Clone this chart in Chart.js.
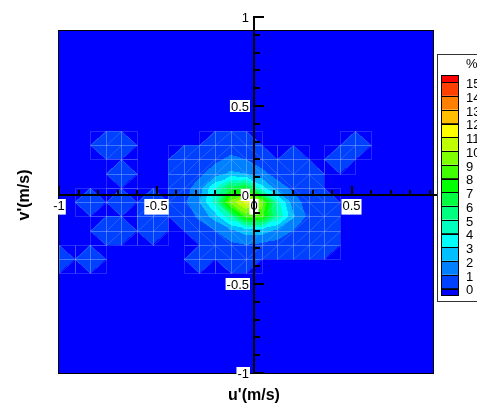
<!DOCTYPE html>
<html>
<head>
<meta charset="utf-8">
<script src="https://cdn.jsdelivr.net/npm/chart.js@4"></script>
<style>
  html, body { margin: 0; padding: 0; background: #fff; }
</style>
</head>
<body>
<canvas id="myChart" width="477" height="403"></canvas>
<script>
// grid nodes of the histogram (m/s)
const xNodes = [-1, -0.92, -0.84, -0.76, -0.68, -0.6, -0.52, -0.44, -0.36, -0.28, -0.2, -0.12, -0.04,
  0.04, 0.12, 0.2, 0.28, 0.36, 0.44, 0.52, 0.6, 0.68, 0.76, 0.84, 0.92];
const yNodes = [-1, -0.92, -0.84, -0.76, -0.68, -0.6, -0.52, -0.44, -0.36, -0.28, -0.2, -0.12, -0.04,
  0.04, 0.12, 0.2, 0.28, 0.36, 0.44, 0.52, 0.6, 0.68, 0.76, 0.84, 0.92];

// percentage at each node, top row (v' = 0.92) first
const zRows = [
  [0,0,0,0,0,0,0,0,0,0,0,0,0,0,0,0,0,0,0,0,0,0,0,0,0],
  [0,0,0,0,0,0,0,0,0,0,0,0,0,0,0,0,0,0,0,0,0,0,0,0,0],
  [0,0,0,0,0,0,0,0,0,0,0,0,0,0,0,0,0,0,0,0,0,0,0,0,0],
  [0,0,0,0,0,0,0,0,0,0,0,0,0,0,0,0,0,0,0,0,0,0,0,0,0],
  [0,0,0,0,0,0,0,0,0,0,0,0,0,0,0,0,0,0,0,0,0,0,0,0,0],
  [0,0,0,0,0,0,0,0,0,0,0,0,0,0,0,0,0,0,0,0,0,0,0,0,0],
  [0,0,0,0,0,0,0,0,0,0,0,0,0,0,0,0,0,0,0,0,0,0,0,0,0],
  [0,0,0,0,0,0,0,0,0,0,0,0,0,0,0,0,0,0,0,0,0,0,0,0,0],
  [0,0,0,.5,.5,0,0,0,0,0,.5,.6,.5,0,0,0,0,0,0,.5,0,0,0,0,0],
  [0,0,0,0,0,0,0,0,.5,.5,.8,1.2,1,.5,0,.5,0,0,.5,0,0,0,0,0,0],
  [0,0,0,0,.5,0,0,0,.5,.8,1.5,2.2,2,1.3,.6,0,.4,0,0,0,0,0,0,0,0],
  [0,0,0,0,0,0,0,0,.6,1.5,4,6.5,7,3.5,1.5,.8,.5,0,0,0,0,0,0,0,0],
  [0,0,.5,0,.5,0,.5,0,.8,2,4.5,9.5,11.5,9.5,4.5,1.5,.6,.5,0,0,0,0,0,0,0],
  [0,0,0,0,0,0,.5,0,.5,1.2,2.5,5,8.5,8.5,5,2.2,.8,.5,0,0,0,0,0,0,0],
  [0,0,0,.5,.5,0,.5,0,0,.5,1,1.8,2.5,2.5,1.8,1,.6,.5,0,0,0,0,0,0,0],
  [0,0,0,0,0,0,0,0,0,0,.5,.8,1,.8,.6,.5,.5,.5,0,0,0,0,0,0,0],
  [.5,0,.5,0,0,0,0,0,0,.5,0,.5,.5,0,0,0,0,0,0,0,0,0,0,0,0],
  [0,0,0,0,0,0,0,0,0,0,0,0,0,0,0,0,0,0,0,0,0,0,0,0,0],
  [0,0,0,0,0,0,0,0,0,0,0,0,0,0,0,0,0,0,0,0,0,0,0,0,0],
  [0,0,0,0,0,0,0,0,0,0,0,0,0,0,0,0,0,0,0,0,0,0,0,0,0],
  [0,0,0,0,0,0,0,0,0,0,0,0,0,0,0,0,0,0,0,0,0,0,0,0,0],
  [0,0,0,0,0,0,0,0,0,0,0,0,0,0,0,0,0,0,0,0,0,0,0,0,0],
  [0,0,0,0,0,0,0,0,0,0,0,0,0,0,0,0,0,0,0,0,0,0,0,0,0],
  [0,0,0,0,0,0,0,0,0,0,0,0,0,0,0,0,0,0,0,0,0,0,0,0,0],
  [0,0,0,0,0,0,0,0,0,0,0,0,0,0,0,0,0,0,0,0,0,0,0,0,0]
];

// contour levels (%) and the flood colours below / between / above them
const contourLevels = [0, 1, 2, 3, 4, 5, 6, 7, 8, 9, 10, 11, 12, 13, 14, 15];
const bandColors = ["#0000ff", "#0040ff", "#0080ff", "#00bfff", "#00ffff", "#00ffbf", "#00ff80",
  "#00ff40", "#00ff00", "#40ff00", "#80ff00", "#bfff00", "#ffff00", "#ffbf00", "#ff8000",
  "#ff4000", "#ff0000"];

// axis tick labels
const xTickValues = [-1, -0.5, 0, 0.5];
const yTickValues = [-1, -0.5, 0, 0.5, 1];

const FONT = "'Liberation Sans', Arial, sans-serif";

const bandOf = (v) => {
  let n = 0;
  for (const L of contourLevels) if (L < v) n++;
  return n;
};

// pick the cell diagonal with the smaller jump
const splitAC = (a, b, c, d) => Math.abs(a - c) <= Math.abs(b - d);

//flooded contour, linear over two triangles per cell
const contourPlugin = {
  id: "contour",
  beforeDraw(chart) {
    const { ctx, scales: { x, y } } = chart;
    const nx = xNodes.length, ny = yNodes.length;
    const left = Math.round(x.getPixelForValue(xNodes[0]));
    const right = Math.round(x.getPixelForValue(xNodes[nx - 1]));
    const top = Math.round(y.getPixelForValue(yNodes[ny - 1]));
    const bottom = Math.round(y.getPixelForValue(yNodes[0]));
    const w = right - left, h = bottom - top;
    const img = ctx.createImageData(w, h);
    const rgb = bandColors.map((c) => [1, 3, 5].map((k) => parseInt(c.slice(k, k + 2), 16)));
    const stepX = xNodes[1] - xNodes[0], stepY = yNodes[1] - yNodes[0];

    const colI = [], colS = [], rowJ = [], rowT = [];
    for (let px = 0; px < w; px++) {
      let f = (x.getValueForPixel(left + px + 0.5) - xNodes[0]) / stepX;
      f = Math.max(0, Math.min(nx - 1.0001, f));
      colI.push(Math.floor(f));
      colS.push(f - Math.floor(f));
    }
    for (let py = 0; py < h; py++) {
      let f = (y.getValueForPixel(top + py + 0.5) - yNodes[0]) / stepY;
      f = Math.max(0, Math.min(ny - 1.0001, f));
      rowJ.push(Math.floor(f));
      rowT.push(f - Math.floor(f));
    }
    const z = (i, j) => zRows[ny - 1 - j][i];

    for (let py = 0; py < h; py++) {
      const j = rowJ[py], t = rowT[py];
      for (let px = 0; px < w; px++) {
        const i = colI[px], u = colS[px];
        const a = z(i, j), b = z(i + 1, j), c = z(i + 1, j + 1), d = z(i, j + 1);
        let v;
        if (splitAC(a, b, c, d)) {
          v = u >= t ? a + (b - a) * u + (c - b) * t : a + (d - a) * t + (c - d) * u;
        } else {
          v = u + t <= 1 ? a + (b - a) * u + (d - a) * t : c + (d - c) * (1 - u) + (b - c) * (1 - t);
        }
        const col = rgb[bandOf(v)];
        const k = (py * w + px) * 4;
        img.data[k] = col[0];
        img.data[k + 1] = col[1];
        img.data[k + 2] = col[2];
        img.data[k + 3] = 255;
      }
    }
    ctx.putImageData(img, left, top);

    // faint seams along the cell edges and diagonals where data is non-zero
    ctx.save();
    ctx.strokeStyle = "rgba(190, 215, 255, 0.2)";
    ctx.lineWidth = 1;
    ctx.beginPath();
    for (let j = 0; j < ny - 1; j++) {
      for (let i = 0; i < nx - 1; i++) {
        const a = z(i, j), b = z(i + 1, j), c = z(i + 1, j + 1), d = z(i, j + 1);
        if (a <= 0 && b <= 0 && c <= 0 && d <= 0) continue;
        const xl = Math.round(x.getPixelForValue(xNodes[i])) + 0.5;
        const xr = Math.round(x.getPixelForValue(xNodes[i + 1])) + 0.5;
        const yb = Math.round(y.getPixelForValue(yNodes[j])) + 0.5;
        const yt = Math.round(y.getPixelForValue(yNodes[j + 1])) + 0.5;
        ctx.rect(xl, yt, xr - xl, yb - yt);
        if (splitAC(a, b, c, d)) { ctx.moveTo(xl, yb); ctx.lineTo(xr, yt); }
        else { ctx.moveTo(xr, yb); ctx.lineTo(xl, yt); }
      }
    }
    ctx.stroke();

    ctx.strokeStyle = "#000";
    ctx.strokeRect(left - 0.5, top - 0.5, w + 1, h + 1);
    ctx.restore();
  },

  afterDraw(chart) {
    const { ctx, scales: { x, y } } = chart;
    const x0 = x.getPixelForValue(0);
    const y0 = y.getPixelForValue(0);
    ctx.save();
    ctx.strokeStyle = "#000";
    ctx.lineWidth = 2;

    // tick marks, pointing up on u' axis and right on v' axis
    ctx.beginPath();
    for (let k = -10; k <= 9; k++) {
      const px = Math.round(x.getPixelForValue(k / 10));
      const len = k % 5 === 0 ? 9 : 5;
      ctx.moveTo(px, y0);
      ctx.lineTo(px, y0 - len);
    }
    for (let k = -10; k <= 10; k++) {
      const py = Math.round(y.getPixelForValue(k / 10));
      const len = k % 5 === 0 ? 10 : 6;
      ctx.moveTo(x0, py);
      ctx.lineTo(x0 + len, py);
    }
    ctx.stroke();

    // v' tick labels with white backing
    ctx.font = "13px " + FONT;
    ctx.textAlign = "right";
    ctx.textBaseline = "middle";
    yTickValues.forEach((v) => {
      const py = y.getPixelForValue(v);
      const label = String(v);
      const tw = ctx.measureText(label).width;
      if (v !== 1) {
        ctx.fillStyle = "#fff";
        ctx.fillRect(249 - tw - 1, py - 6, tw + 2, 12);
      }
      ctx.fillStyle = "#000";
      ctx.fillText(label, 249, py + 1);
    });

    // axis titles
    ctx.font = "bold 16px " + FONT;
    ctx.textAlign = "center";
    ctx.fillStyle = "#000";
    ctx.fillText("u'(m/s)", x0, 396);
    ctx.translate(25, 195);
    ctx.rotate(-Math.PI / 2);
    ctx.fillText("v'(m/s)", 0, 0);
    ctx.restore();

    // colour legend
    ctx.save();
    ctx.fillStyle = "#fff";
    ctx.fillRect(437, 54, 45, 248);
    ctx.strokeStyle = "#333";
    ctx.lineWidth = 1;
    ctx.strokeRect(437.5, 54.5, 45, 247);
    ctx.font = "13px " + FONT;
    ctx.textAlign = "left";
    ctx.textBaseline = "middle";
    ctx.fillStyle = "#000";
    ctx.fillText("%", 466, 64);

    const top = 82, step = 13.75, n = contourLevels.length;
    ctx.strokeStyle = "#000";
    bandColors.forEach((c, k) => {
      let yt, hh;
      if (k === bandColors.length - 1) { yt = top - 7; hh = 7; }
      else if (k === 0) { yt = top + (n - 1) * step; hh = 7; }
      else { yt = top + (n - 1 - k) * step; hh = step; }
      ctx.fillStyle = c;
      ctx.fillRect(441, yt, 18, hh);
      ctx.strokeRect(441.5, Math.round(yt) + 0.5, 17, Math.round(hh));
    });
    ctx.fillStyle = "#000";
    contourLevels.forEach((L, k) => {
      ctx.fillText(String(L), 466, top + (n - 1 - k) * step + 2.5);
    });
    ctx.restore();
  }
};

const ctx = document.getElementById("myChart").getContext("2d");
new Chart(ctx, {
  type: "scatter",
  data: { datasets: [{ data: [], pointRadius: 0 }] },
  options: {
    responsive: false,
    animation: false,
    devicePixelRatio: 1,
    layout: { padding: { left: 59, right: 37.75, top: 17, bottom: 30 } },
    plugins: { legend: { display: false }, tooltip: { enabled: false } },
    scales: {
      x: {
        type: "linear",
        min: -1,
        max: 0.95,
        position: { y: 0 },
        afterBuildTicks: (scale) => {
          scale.ticks = xTickValues.map((v) => ({ value: v }));
        },
        ticks: {
          autoSkip: false,
          maxRotation: 0,
          padding: 4,
          color: "#000",
          font: { family: FONT, size: 13 },
          showLabelBackdrop: true,
          backdropColor: "#fff",
          backdropPadding: { left: 1, right: 1, top: 0, bottom: 0 },
          callback: (v) => String(v)
        },
        grid: { drawOnChartArea: false, drawTicks: false },
        border: { color: "#000", width: 2 }
      },
      y: {
        type: "linear",
        min: -1,
        max: 1,
        position: { x: 0 },
        ticks: { display: false },
        grid: { drawOnChartArea: false, drawTicks: false },
        border: { color: "#000", width: 2 }
      }
    }
  },
  plugins: [contourPlugin]
});
</script>
</body>
</html>
